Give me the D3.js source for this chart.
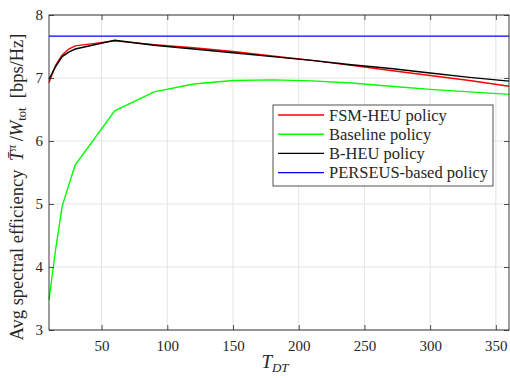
<!DOCTYPE html>
<html>
  <head>
    <title>Avg spectral efficiency</title>
    <script src="https://d3js.org/d3.v7.min.js"></script>
    <style>
      body { margin: 0; background: #ffffff; }
      text { font-family: "Liberation Serif", "DejaVu Serif", serif; fill: #262626; }
    </style>
  </head>
  <body>
    <svg width="510" height="378" id="mainsvg"></svg>
    <script>
        // data
        const tdt = [10, 15, 20, 25, 30, 60, 90, 120, 150, 180, 210, 240, 270, 300, 330, 360];
        const fsmHeu   = [6.93, 7.20, 7.365, 7.46, 7.51, 7.59, 7.53, 7.48, 7.42, 7.35, 7.28, 7.20, 7.12, 7.04, 6.96, 6.87];
        const baseline = [3.48, 4.27, 4.96, 5.30, 5.62, 6.48, 6.78, 6.905, 6.96, 6.97, 6.955, 6.92, 6.87, 6.82, 6.78, 6.74];
        const bHeu     = [6.98, 7.18, 7.34, 7.41, 7.46, 7.60, 7.52, 7.46, 7.40, 7.34, 7.28, 7.21, 7.15, 7.08, 7.01, 6.95];
        const perseus  = [7.665, 7.665];
        const perseusX = [10, 360];
        const xTicks = [50, 100, 150, 200, 250, 300, 350];
        const yTicks = [3, 4, 5, 6, 7, 8];
        const seriesNames = ['FSM-HEU policy', 'Baseline policy', 'B-HEU policy', 'PERSEUS-based policy'];
        const seriesColors = ['#ff0000', '#00ff00', '#000000', '#0000ff'];

        const svg = d3.select('#mainsvg');
        const margin = {top: 15, right: 1, bottom: 48, left: 49};
        const innerWidth = 510 - margin.left - margin.right;
        const innerHeight = 378 - margin.top - margin.bottom;

        const xScale = d3.scaleLinear().domain([10, 360]).range([0, innerWidth]);
        const yScale = d3.scaleLinear().domain([3, 8]).range([innerHeight, 0]);

        const g = svg.append('g')
            .attr('transform', `translate(${margin.left}, ${margin.top})`);

        // grid
        g.selectAll('.vgrid').data(xTicks).join('line')
            .attr('x1', d => xScale(d)).attr('x2', d => xScale(d))
            .attr('y1', 0).attr('y2', innerHeight)
            .attr('stroke', '#e4e4e4').attr('stroke-width', 1);
        g.selectAll('.hgrid').data(yTicks).join('line')
            .attr('y1', d => yScale(d)).attr('y2', d => yScale(d))
            .attr('x1', 0).attr('x2', innerWidth)
            .attr('stroke', '#e4e4e4').attr('stroke-width', 1);

        // series
        const line = d3.line().x(d => xScale(d[0])).y(d => yScale(d[1]));
        const allSeries = [
            d3.zip(tdt, fsmHeu),
            d3.zip(tdt, baseline),
            d3.zip(tdt, bHeu),
            d3.zip(perseusX, perseus)
        ];
        // draw order: baseline, red, black, blue
        [1, 0, 2, 3].forEach(i => {
            g.append('path')
                .datum(allSeries[i])
                .attr('d', line)
                .attr('fill', 'none')
                .attr('stroke', seriesColors[i])
                .attr('stroke-width', 1.4);
        });

        // axes (ticks pointing inward, box)
        const axisColor = '#262626';
        const xAxis = d3.axisBottom(xScale).tickValues(xTicks).tickSize(-5).tickPadding(10);
        const xAxisGroup = g.append('g').attr('transform', `translate(0, ${innerHeight})`).call(xAxis);
        const xTop = g.append('g').call(d3.axisTop(xScale).tickValues(xTicks).tickSize(-5));
        const yAxis = d3.axisLeft(yScale).tickValues(yTicks).tickSize(-5).tickPadding(6).tickFormat(d3.format('d'));
        const yAxisGroup = g.append('g').call(yAxis);
        const yRight = g.append('g').attr('transform', `translate(${innerWidth}, 0)`)
            .call(d3.axisRight(yScale).tickValues(yTicks).tickSize(-5));
        // mirrored ticks only, no labels
        xTop.selectAll('text').remove();
        yRight.selectAll('text').remove();
        [xAxisGroup, xTop, yAxisGroup, yRight].forEach(a => {
            a.selectAll('.domain').remove();
            a.selectAll('line').attr('stroke', axisColor).attr('stroke-width', 0.8);
            a.selectAll('text').attr('font-size', 15).attr('font-family', '"Liberation Serif", serif').attr('fill', axisColor);
        });
        g.append('rect')
            .attr('width', innerWidth).attr('height', innerHeight)
            .attr('fill', 'none').attr('stroke', axisColor).attr('stroke-width', 0.9);

        // axis labels
        const xl = svg.append('text')
            .attr('x', margin.left + innerWidth / 2 - 4)
            .attr('y', 368)
            .attr('text-anchor', 'middle')
            .attr('font-size', 19);
        xl.append('tspan').attr('font-style', 'italic').text('T');
        xl.append('tspan').attr('font-style', 'italic').attr('font-size', 13).attr('dy', 4).text('DT');

        const yl = svg.append('text')
            .attr('transform', 'translate(23, 187) rotate(-90)')
            .attr('text-anchor', 'middle')
            .attr('font-size', 18.5);
        yl.append('tspan').text('Avg spectral efficiency ');
        yl.append('tspan').attr('font-style', 'italic').text('\u2009T\u0304');
        yl.append('tspan').attr('font-style', 'italic').attr('font-size', 12).attr('dy', -7).text('\u03c0');
        yl.append('tspan').attr('dy', 7).text('\u2009/');
        yl.append('tspan').attr('font-style', 'italic').text('W');
        yl.append('tspan').attr('font-size', 12.5).attr('dy', 3).text('tot');
        yl.append('tspan').attr('dy', -3).text('\u2002[bps/Hz]');

        // legend
        const legend = svg.append('g').attr('transform', 'translate(273, 105)');
        legend.append('rect')
            .attr('width', 220).attr('height', 81)
            .attr('fill', '#ffffff').attr('stroke', axisColor).attr('stroke-width', 0.8);
        seriesNames.forEach((name, i) => {
            const yy = 10 + i * 19.2;
            legend.append('line')
                .attr('x1', 5).attr('x2', 51).attr('y1', yy).attr('y2', yy)
                .attr('stroke', seriesColors[i]).attr('stroke-width', 1.4);
            legend.append('text')
                .attr('x', 56).attr('y', yy + 5.5)
                .attr('font-size', 16.5)
                .text(name);
        });
    </script>
  </body>
</html>
